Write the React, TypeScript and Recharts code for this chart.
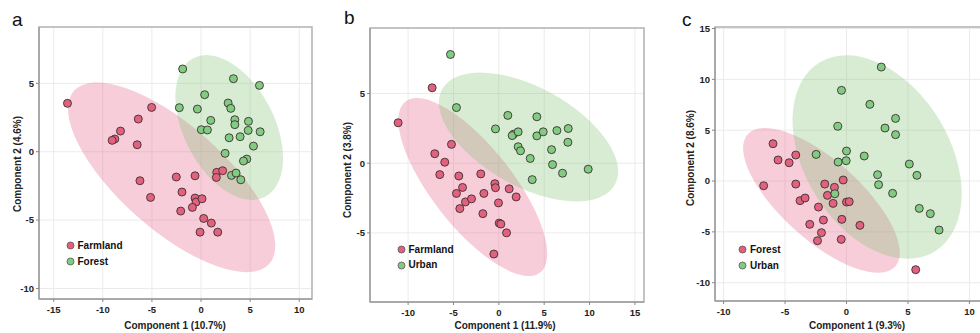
import React from 'react';
import { ScatterChart, Scatter, XAxis, YAxis, CartesianGrid, ReferenceArea } from 'recharts';

// ---------- data ----------
const aFarmland: number[][] = [[-13.6,3.54],[-5.03,3.24],[-6.39,2.39],[-8.2,1.51],[-8.78,0.93],[-9.05,0.83],[-6.5,0.51],[-6.22,-2.12],[-5.14,-3.34],[-2.52,-1.85],[-0.61,-1.76],[-1.94,-2.95],[-2.07,-4.34],[-0.61,-3.39],[-0.51,-3.68],[-0.88,-4.07],[0.1,-3.44],[0.27,-4.88],[1.05,-5.22],[-0.1,-5.88],[1.7,-5.88],[1.6,-1.51],[1.56,-1.88],[2.2,-1.39]];
const aForest: number[][] = [[-1.87,6.05],[3.3,5.34],[5.95,4.85],[0.37,4.17],[-2.21,3.22],[-0.37,3.12],[2.76,3.56],[3.03,3.17],[0.99,2.29],[3.44,2.34],[3.44,1.98],[4.83,2.22],[0.03,1.61],[0.65,1.59],[4.8,1.56],[6.02,1.46],[3.98,1.1],[2.86,1.02],[5.34,0.41],[2.45,-0.12],[4.66,-0.54],[4.32,-0.68],[3.1,-1.73],[3.57,-1.56],[4.05,-2.05]];

const bFarmland: number[][] = [[-11.1,2.9],[-7.35,5.41],[-5.22,1.35],[-7.06,0.68],[-5.96,0.07],[-6.51,-0.82],[-4.41,-0.92],[-4.0,-1.74],[-4.67,-2.17],[-3.68,-2.78],[-3.01,-2.56],[-4.3,-3.26],[-1.99,-0.77],[-1.65,-2.17],[-0.44,-1.47],[-0.37,-1.76],[1.14,-1.84],[1.91,-2.42],[-0.04,-2.85],[-1.76,-3.62],[0.04,-4.3],[0.22,-4.37],[0.85,-5.0],[-0.55,-6.52]];
const bUrban: number[][] = [[-5.33,7.8],[-4.67,3.99],[0.99,3.43],[-0.37,2.46],[1.62,2.08],[1.47,1.98],[2.13,2.25],[4.19,3.33],[4.19,1.96],[4.89,2.25],[6.4,2.34],[7.65,2.49],[2.13,1.18],[2.39,0.89],[3.46,0.34],[5.81,0.97],[7.61,1.5],[5.92,-0.1],[7.02,-0.72],[9.85,-0.43],[3.68,-1.18]];

const cForest: number[][] = [[-6.74,-0.46],[-5.98,3.67],[-5.57,2.07],[-4.67,1.8],[-4.13,2.56],[-4.13,-0.3],[-3.78,-1.93],[-3.37,-1.67],[-2.28,-2.56],[-2.99,-4.26],[-1.88,-3.84],[-2.04,-5.08],[-2.36,-5.87],[-0.43,-5.74],[-0.38,-3.77],[-1.77,-0.3],[-0.98,-0.62],[-1.55,-1.41],[-1.09,-2.2],[-0.27,0.1],[0.0,-2.07],[0.22,-2.03],[1.09,-4.36],[5.63,-8.72]];
const cUrban: number[][] = [[2.83,11.21],[-0.41,8.92],[1.9,7.54],[3.99,6.16],[3.13,5.21],[3.99,4.56],[-0.71,5.38],[-2.47,2.62],[0.0,2.95],[-0.68,1.87],[-0.03,2.0],[1.44,2.46],[5.11,1.67],[2.53,0.62],[2.61,-0.36],[5.73,0.56],[3.75,-1.21],[5.92,-2.69],[6.82,-3.21],[7.53,-4.82],[-0.95,-1.25]];

// ellipses: [centerX, centerY, majorTipX, majorTipY, minor/major ratio]
const aEllFarmland = [-2.99, -1.87, -12.94, 4.45, 0.40];
const aEllForest = [2.87, 1.77, -0.78, 6.84, 0.58];
const bEllFarmland = [-2.87, -1.71, -10.3, 4.42, 0.37];
const bEllUrban = [3.27, 1.88, -6.25, 5.31, 0.5];
const cEllForest = [-2.04, -1.9, -8.04, 4.61, 0.4];
const cEllUrban = [2.49, 2.36, -2.2, 11.65, 0.655];

const aXTicks = [-15, -10, -5, 0, 5, 10];
const aYTicks = [-10, -5, 0, 5];
const bXTicks = [-10, -5, 0, 5, 10, 15];
const bYTicks = [-5, 0, 5];
const cXTicks = [-10, -5, 0, 5, 10];
const cYTicks = [-10, -5, 0, 5, 10, 15];

// ---------- style ----------
const FONT = '"Liberation Sans", Arial, sans-serif';
const PINK_PT = '#e2617f';
const GREEN_PT = '#82cb82';
const PINK_ELL = '#e8678f';
const GREEN_ELL = '#7fbf70';

const toPts = (arr: number[][]) => arr.map(([x, y]) => ({ x, y }));

const dot = (fill: string) => (p: any) => (
  <circle cx={p.cx} cy={p.cy} r={4} fill={fill} stroke="#3c3030" strokeWidth={0.9} />
);

const ellipseLine = (ratio: number, fill: string, opacity: number) => (lp: any) => {
  const pts = lp && lp.points;
  if (!pts || pts.length < 2) return <g />;
  const c = pts[0];
  const t = pts[1];
  const dx = t.x - c.x;
  const dy = t.y - c.y;
  const a = Math.hypot(dx, dy);
  const ang = (Math.atan2(dy, dx) * 180) / Math.PI;
  return (
    <ellipse
      cx={c.x}
      cy={c.y}
      rx={a}
      ry={a * ratio}
      transform={`rotate(${ang} ${c.x} ${c.y})`}
      fill={fill}
      fillOpacity={opacity}
      stroke="none"
    />
  );
};

const EllipseSeries = (ell: number[], fill: string, opacity: number, key: string) => (
  <Scatter
    key={key}
    data={[{ x: ell[0], y: ell[1] }, { x: ell[2], y: ell[3] }]}
    line={ellipseLine(ell[4], fill, opacity)}
    shape={() => <g />}
    legendType="none"
    isAnimationActive={false}
  />
);

const tickStyle = { fontFamily: FONT, fontSize: 9.5, fontWeight: 700, fill: '#222' };

type PanelProps = {
  left: number;
  width: number;
  yAxisWidth: number;
  marginTop: number;
  marginRight: number;
  xAxisHeight: number;
  xDomain: number[];
  yDomain: number[];
  xTicks: number[];
  yTicks: number[];
  ell1: number[];
  ell2: number[];
  s1: number[][];
  s2: number[][];
};

const Panel = (p: PanelProps) => (
  <div style={{ position: 'absolute', left: p.left, top: 0 }}>
    <ScatterChart
      width={p.width}
      height={333}
      margin={{ top: p.marginTop, right: p.marginRight, bottom: 0, left: 0 }}
    >
      <CartesianGrid stroke="#ebebeb" strokeWidth={1} />
      <ReferenceArea
        x1={p.xDomain[0]}
        x2={p.xDomain[1]}
        y1={p.yDomain[0]}
        y2={p.yDomain[1]}
        fill="none"
        fillOpacity={0}
        stroke="#b4b4b4"
        strokeWidth={1.5}
        ifOverflow="visible"
      />
      <XAxis
        type="number"
        dataKey="x"
        domain={p.xDomain}
        ticks={p.xTicks}
        allowDataOverflow
        height={p.xAxisHeight}
        tick={tickStyle}
        tickSize={3}
        tickMargin={4}
        axisLine={{ stroke: '#a0a0a0', strokeWidth: 1.5 }}
        tickLine={{ stroke: '#888' }}
      />
      <YAxis
        type="number"
        dataKey="y"
        domain={p.yDomain}
        ticks={p.yTicks}
        allowDataOverflow
        width={p.yAxisWidth}
        tick={tickStyle}
        tickSize={3}
        tickMargin={2}
        axisLine={{ stroke: '#a0a0a0', strokeWidth: 1.5 }}
        tickLine={{ stroke: '#888' }}
      />
      {EllipseSeries(p.ell1, PINK_ELL, 0.33, 'e1')}
      {EllipseSeries(p.ell2, GREEN_ELL, 0.3, 'e2')}
      <Scatter data={toPts(p.s1)} shape={dot(PINK_PT)} isAnimationActive={false} />
      <Scatter data={toPts(p.s2)} shape={dot(GREEN_PT)} isAnimationActive={false} />
    </ScatterChart>
  </div>
);

const LegendBox = ({ x, y, names }: { x: number; y: number; names: string[] }) => (
  <div style={{ position: 'absolute', left: x, top: y, fontFamily: FONT, fontSize: 10, fontWeight: 700, color: '#111', lineHeight: '15.7px' }}>
    {[[names[0], PINK_PT], [names[1], GREEN_PT]].map(([n, c]) => (
      <div key={n} style={{ display: 'flex', alignItems: 'center', height: 15.7 }}>
        <svg width={9} height={9} style={{ marginRight: 3 }}>
          <circle cx={4.5} cy={4.5} r={3.5} fill={c} stroke="#555" strokeWidth={0.8} />
        </svg>
        <span>{n}</span>
      </div>
    ))}
  </div>
);

const textBase: React.CSSProperties = {
  position: 'absolute',
  fontFamily: FONT,
  fontWeight: 700,
  fontSize: 10,
  color: '#222',
  whiteSpace: 'nowrap',
};

const XTitle = ({ cx, cy, text }: { cx: number; cy: number; text: string }) => (
  <div style={{ ...textBase, left: cx, top: cy, transform: 'translate(-50%, -50%)' }}>{text}</div>
);
const YTitle = ({ cx, cy, text }: { cx: number; cy: number; text: string }) => (
  <div style={{ ...textBase, left: cx, top: cy, transform: 'translate(-50%, -50%) rotate(-90deg)' }}>{text}</div>
);
const Letter = ({ x, y, text }: { x: number; y: number; text: string }) => (
  <div style={{ position: 'absolute', left: x, top: y, fontFamily: FONT, fontSize: 19, color: '#111', lineHeight: '19px' }}>{text}</div>
);

export default function App() {
  return (
    <div style={{ position: 'fixed', left: 0, top: 0, width: 980, height: 333, overflow: 'hidden', background: '#fff' }}>
      <Panel
        left={0}
        width={325}
        yAxisWidth={39}
        marginTop={27}
        marginRight={13}
        xAxisHeight={34}
        xDomain={[-16.5, 11.3]}
        yDomain={[-10.77, 9.12]}
        xTicks={aXTicks}
        yTicks={aYTicks}
        ell1={aEllFarmland}
        ell2={aEllForest}
        s1={aFarmland}
        s2={aForest}
      />
      <Panel
        left={325}
        width={330}
        yAxisWidth={45}
        marginTop={28}
        marginRight={11}
        xAxisHeight={31}
        xDomain={[-14.2, 16.0]}
        yDomain={[-9.96, 9.7]}
        xTicks={bXTicks}
        yTicks={bYTicks}
        ell1={bEllFarmland}
        ell2={bEllUrban}
        s1={bFarmland}
        s2={bUrban}
      />
      <Panel
        left={650}
        width={360}
        yAxisWidth={65}
        marginTop={27}
        marginRight={16}
        xAxisHeight={32}
        xDomain={[-10.7, 12.0]}
        yDomain={[-11.8, 15.15]}
        xTicks={cXTicks}
        yTicks={cYTicks}
        ell1={cEllForest}
        ell2={cEllUrban}
        s1={cForest}
        s2={cUrban}
      />
      <LegendBox x={65.5} y={238} names={['Farmland', 'Forest']} />
      <LegendBox x={396.5} y={241.5} names={['Farmland', 'Urban']} />
      <LegendBox x={738} y={242} names={['Forest', 'Urban']} />
      <XTitle cx={175} cy={324.5} text="Component 1 (10.7%)" />
      <XTitle cx={505} cy={325} text="Component 1 (11.9%)" />
      <XTitle cx={857} cy={325} text="Component 1 (9.3%)" />
      <YTitle cx={17} cy={164} text="Component 2 (4.6%)" />
      <YTitle cx={347} cy={170} text="Component 2 (3.8%)" />
      <YTitle cx={690} cy={158} text="Component 2 (8.6%)" />
      <Letter x={12} y={10} text="a" />
      <Letter x={344} y={8} text="b" />
      <Letter x={682} y={10} text="c" />
    </div>
  );
}
